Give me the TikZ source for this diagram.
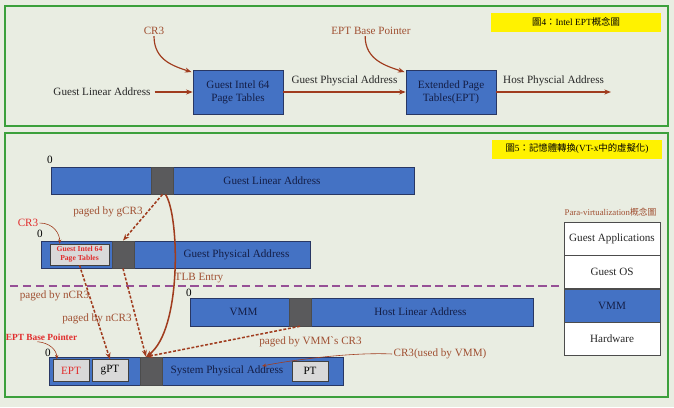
\documentclass[tikz,border=0pt]{standalone}
\usepackage{fontspec}
\setmainfont{Liberation Serif}
\newfontfamily\cjk{Noto Sans CJK TC}
\usetikzlibrary{arrows.meta, positioning, calc}
\definecolor{pagebg}{RGB}{233, 237, 226}
\definecolor{framegreen}{RGB}{60, 160, 60}
\definecolor{barblue}{RGB}{68, 114, 196}
\definecolor{bardark}{RGB}{40, 55, 100}
\definecolor{navytext}{RGB}{20, 30, 70}
\definecolor{blockgrey}{RGB}{90, 90, 92}
\definecolor{arrbrown}{RGB}{160, 60, 30}
\definecolor{lblbrown}{RGB}{160, 80, 50}
\definecolor{ptred}{RGB}{225, 45, 45}
\definecolor{tlbpurple}{RGB}{150, 80, 150}

\begin{document}
\begin{tikzpicture}[
    x=0.03cm, y=-0.03cm,
    font=\fontsize{9.5}{11}\selectfont,
    panel/.style={draw=framegreen, line width=1pt},
    caption/.style={fill=yellow, minimum width=5.1cm, minimum height=0.57cm, inner sep=1pt, font=\fontsize{8}{10}\selectfont},
    pbox/.style={draw=bardark, fill=barblue, minimum width=2.7cm, minimum height=1.32cm, align=center, text=navytext},
    bar/.style={draw=bardark, fill=barblue, minimum height=0.82cm, inner sep=0pt},
    blk/.style={draw=black!70, fill=blockgrey, minimum width=0.65cm, minimum height=0.82cm, inner sep=0pt},
    tbl/.style={draw=black!75, fill=black!15, minimum width=1.08cm, minimum height=0.66cm, inner sep=0pt},
    bartxt/.style={text=navytext, inner sep=1pt},
    zero/.style={inner sep=0pt},
    lbl/.style={text=lblbrown, inner sep=1pt},
    redlbl/.style={text=ptred, inner sep=1pt},
    arr/.style={-{Stealth[length=2mm]}, arrbrown, line width=1pt},
    darr/.style={-{Stealth[length=2mm]}, arrbrown, line width=1.3pt, dash pattern=on 2.5pt off 1.5pt},
    thinarr/.style={-{Stealth[length=1.3mm]}, arrbrown, line width=0.5pt},
    layer/.style={draw=black!70, fill=white, minimum width=2.88cm, minimum height=0.99cm, text=black!85},
]
\fill[pagebg] (0,0) rectangle (674,407);
\useasboundingbox (0,0) rectangle (674,407);

% --- Top panel: EPT concept ---
\draw[panel] (5,6) rectangle (668,126);
\node[caption] (cap4) at (576,22) {{\cjk 圖}4{\cjk ：}Intel EPT{\cjk 概念圖}};

\node[pbox] (gpt) at (238,92) {Guest Intel 64\\Page Tables};
\node[pbox] (ept) at (451,92) {Extended Page\\Tables(EPT)};
\node[text=black!85] (gla) at (102,92) {Guest Linear Address};
\node[lbl] (cr3top) at (154,31) {CR3};
\node[lbl] (eptptr) at (371,31) {EPT Base Pointer};
\coordinate (hpaend) at (611,92);

\draw[arr] (gla) -- (gpt);
\draw[arr] (gpt) -- (ept) node[midway, above=1pt, text=black!85] {Guest Physcial Address};
\draw[arr] (ept) -- (hpaend) node[midway, above=1pt, text=black!85] {Host Physcial Address};
\draw[arr] (cr3top.south) .. controls +(0,24) and +(-18,-6) .. ([xshift=-1pt,yshift=-2pt]gpt.north west);
\draw[arr] ([xshift=-5pt]eptptr.south) .. controls +(0,24) and +(-18,-6) .. ([xshift=-1pt,yshift=-2pt]ept.north west);

% --- Bottom panel: memory translation ---
\draw[panel] (5,133) rectangle (668,397);
\node[caption] (cap5) at (577,149) {{\cjk 圖}5{\cjk ：記憶體轉換}(VT-x{\cjk 中的虛擬化})};

% guest linear address
\node[bar, minimum width=10.89cm] (glabar) at (232.5,180.5) {};
\node[blk] (glablk) at (162.5,180.5) {};
\node[bartxt] at (272,180.5) {Guest Linear Address};
\node[zero] at (50,160) {0};

% guest physical address
\node[bar, minimum width=8.07cm] (gpabar) at (175.5,254.5) {};
\node[blk] (gpablk) at (123,254.5) {};
\node[tbl, minimum width=1.77cm, minimum height=0.63cm, align=center, text=ptred,
      font=\fontsize{6.5}{7.5}\selectfont\bfseries] (gptin) at (79.5,254.5) {Guest Intel 64\\Page Tables};
\node[bartxt] at (236.5,254.5) {Guest Physical Address};
\node[zero] at (40,234) {0};
\node[redlbl] (cr3red) at (28,223) {CR3};
\draw[thinarr] (cr3red.east) .. controls +(14,0) and +(0,-10) .. ($(gptin.north west)+(10,0)$);

% TLB separation line
\coordinate (sepL) at (10,286);
\coordinate (sepR) at (561,286);
\draw[tlbpurple, line width=1pt, dash pattern=on 7pt off 4pt] (sepL) -- (sepR);

% VMM / host linear address
\node[bar, minimum width=10.29cm, minimum height=0.84cm] (vmmbar) at (361.5,312) {};
\node[blk, minimum height=0.84cm] (vmmblk) at (300,312) {};
\node[bartxt] at (243.5,312) {VMM};
\node[bartxt] at (420.5,312) {Host Linear Address};
\node[zero] at (189,293) {0};

% system physical address
\node[bar, minimum width=8.82cm, minimum height=0.84cm] (spabar) at (196,371) {};
\node[tbl, text=ptred] (eptbox) at (71,370.5) {EPT};
\node[tbl] (gptbox) at (110,370.5) {gPT};
\node[blk, minimum height=0.84cm] (spablk) at (151,371) {};
\node[tbl, minimum height=0.6cm] (ptbox) at (310,371) {PT};
\node[bartxt] (spatxt) at (227,371) {System Physical Address};
\node[zero] at (48,353) {0};
\node[redlbl, font=\fontsize{8}{9}\selectfont\bfseries] (eptbp) at (41.5,337) {EPT Base Pointer};
\draw[thinarr] ($(eptbp.south)+(-4,0)$) .. controls +(12,1) and +(0,-9) .. ($(eptbox.north west)+(4,0)$);

% --- Translation arrows ---
\coordinate (spahit) at ($(spablk.north)+(-5,0)$);
\draw[darr] (glablk.south) -- (gpablk.north);
\draw[darr] (gpablk.south) -- (spahit);
\draw[darr] (gptin.south) -- (gptbox.north);
\draw[darr] (vmmblk.south) -- (spahit);
\draw[arr, line width=1.3pt] ($(glablk.south)+(3,0)$) .. controls +(14,21) and +(36,-27) .. (spahit);

\node[lbl] at (108,212) {paged by gCR3};
\node[lbl] at (199,278) {TLB Entry};
\node[lbl] at (54.5,296) {paged by nCR3};
\node[lbl] at (97,319) {paged by nCR3};
\node[lbl] at (310.5,342) {paged by VMM\textasciigrave s CR3};
\node[lbl] (cr3vmm) at (440,354) {CR3(used by VMM)};
\coordinate (cr3tip) at (262,366);
\draw[thinarr] (cr3vmm.west) .. controls +(-40,-2) and +(30,-6) .. (cr3tip);

% --- Para-virtualization stack ---
\node[lbl, font=\fontsize{7.5}{9}\selectfont] (pvlbl) at (610.5,212) {Para-virtualization{\cjk 概念圖}};
\node[layer] (gapps) at (612,238.5) {Guest Applications};
\node[layer, below=0pt of gapps] (gos) {Guest OS};
\node[layer, below=0pt of gos, fill=barblue, text=navytext] (vmmlay) {VMM};
\node[layer, below=0pt of vmmlay] (hw) {Hardware};

\end{tikzpicture}
\end{document}
